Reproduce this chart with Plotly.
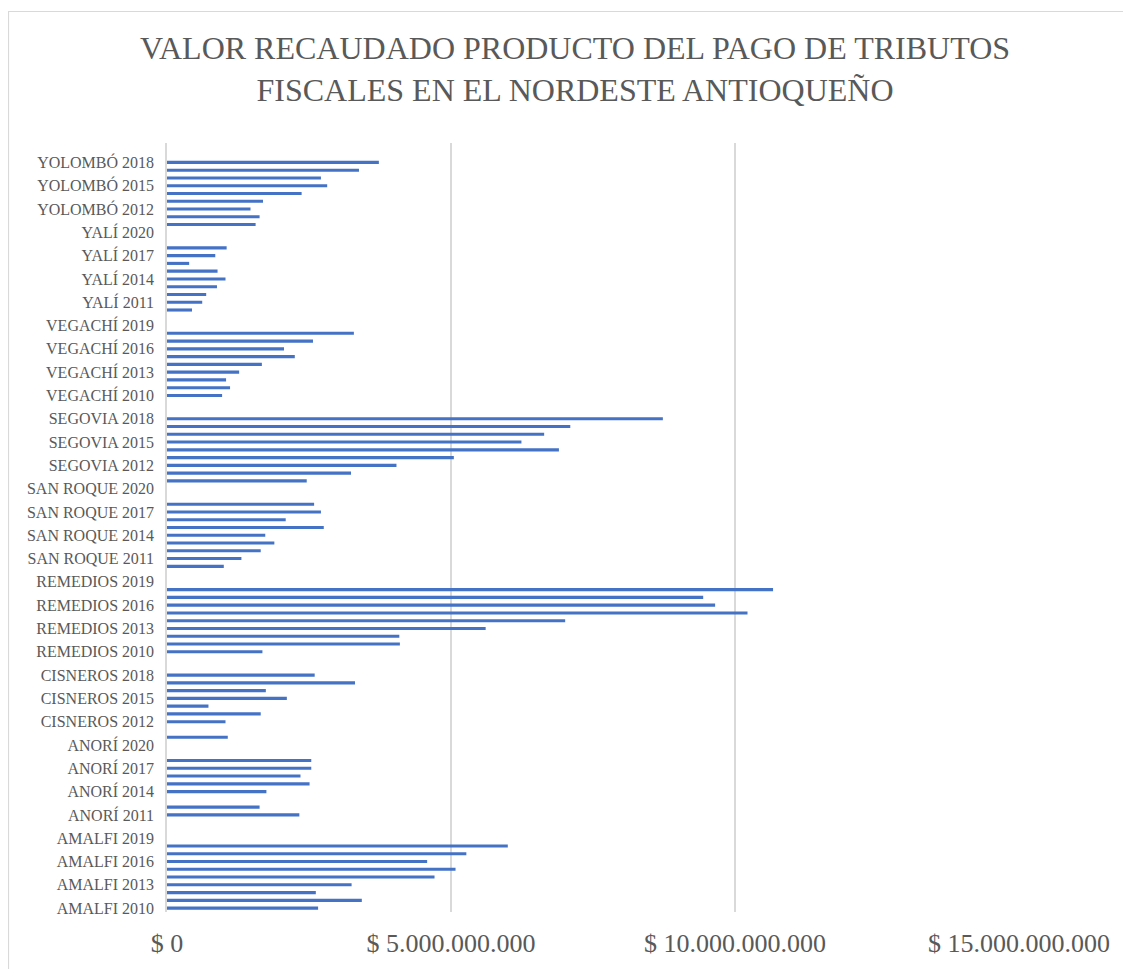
import plotly.graph_objects as go

# ---------------- data ----------------
municipios = ["AMALFI", "ANORÍ", "CISNEROS", "REMEDIOS", "SAN ROQUE",
              "SEGOVIA", "VEGACHÍ", "YALÍ", "YOLOMBÓ"]
years = [2010, 2011, 2012, 2013, 2014, 2015, 2016, 2017, 2018, 2019, 2020]

amalfi    = [2660e6, 3430e6, 2620e6, 3250e6, 4710e6, 5080e6, 4580e6, 5270e6, 6000e6, None, None]
anori     = [None, 2330e6, 1630e6, None, 1750e6, 2510e6, 2350e6, 2540e6, 2540e6, None, None]
cisneros  = [1070e6, None, 1030e6, 1650e6, 730e6, 2110e6, 1740e6, 3310e6, 2600e6, None, None]
remedios  = [1680e6, 4100e6, 4090e6, 5610e6, 7010e6, 10220e6, 9650e6, 9440e6, 10670e6, None, None]
san_roque = [1000e6, 1310e6, 1650e6, 1890e6, 1730e6, 2760e6, 2090e6, 2710e6, 2590e6, None, None]
segovia   = [2460e6, 3240e6, 4040e6, 5050e6, 6900e6, 6240e6, 6640e6, 7100e6, 8730e6, None, None]
vegachi   = [970e6, 1110e6, 1040e6, 1270e6, 1670e6, 2250e6, 2060e6, 2570e6, 3290e6, None, None]
yali      = [440e6, 620e6, 690e6, 880e6, 1030e6, 890e6, 390e6, 850e6, 1050e6, None, None]
yolombo   = [1560e6, 1630e6, 1470e6, 1690e6, 2370e6, 2820e6, 2710e6, 3380e6, 3730e6, None, None]

series = [amalfi, anori, cisneros, remedios, san_roque, segovia, vegachi, yali, yolombo]

x_tickvals = [0, 5e9, 10e9, 15e9]
x_ticktext = ["$ 0", "$ 5.000.000.000", "$ 10.000.000.000", "$ 15.000.000.000"]

title_text = ("VALOR RECAUDADO PRODUCTO DEL PAGO DE TRIBUTOS<br>"
              "FISCALES EN EL NORDESTE ANTIOQUEÑO")

# ---------------- build ----------------
categories = []
values = []
for m, vals in zip(municipios, series):
    for yr, v in zip(years, vals):
        categories.append(f"{m} {yr}")
        values.append(v)

shown_ticks = categories[::3]

# page has an 8px body margin; figure coordinates are page - 8
W, H = 1123, 961
L, R, T, B = 159, 1011, 135, 904

fig = go.Figure(go.Bar(
    y=categories, x=values, orientation="h",
    marker=dict(color="#4472C4", line=dict(width=0)),
    hoverinfo="x+y",
))

FONT = "Liberation Serif, serif"
GRAY = "#595959"
GRID = "#D9D9D9"


def px_x(p):
    return (p - L) / (R - L)


def px_y(p):
    return (B - p) / (B - T)


fig.update_layout(
    width=W, height=H,
    margin=dict(l=L, r=W - R, t=T, b=H - B, pad=0),
    paper_bgcolor="white", plot_bgcolor="white",
    font=dict(family=FONT, color=GRAY),
    bargap=0.6,
    showlegend=False,
    xaxis=dict(range=[0, 15e9], tickmode="array", tickvals=x_tickvals,
               ticktext=x_ticktext, showgrid=True, gridcolor=GRID,
               gridwidth=1.5, zeroline=False, showline=False,
               ticks="", ticklabelstandoff=13,
               tickfont=dict(family=FONT, size=26, color=GRAY)),
    yaxis=dict(type="category", categoryorder="array", categoryarray=categories,
               range=[-0.5, len(categories) - 0.5],
               tickmode="array", tickvals=shown_ticks, ticktext=shown_ticks,
               showgrid=False, zeroline=False, showline=True,
               linecolor=GRID, linewidth=1.5, ticks="",
               ticklabelstandoff=8,
               tickfont=dict(family=FONT, size=16, color=GRAY)),
)

# chart title (Excel style, serif)
fig.add_annotation(text=title_text, xref="paper", yref="paper",
                   x=px_x(567), y=px_y(61), xanchor="center", yanchor="middle",
                   showarrow=False, align="center",
                   font=dict(family=FONT, size=32, color=GRAY))

# outer chart border (Excel chart area)
fig.add_shape(type="rect", xref="paper", yref="paper",
              x0=px_x(0.5), x1=px_x(1140), y0=px_y(980), y1=px_y(3.5),
              line=dict(color=GRID, width=1.2), fillcolor="rgba(0,0,0,0)",
              layer="below")

fig.write_html("out.html")
